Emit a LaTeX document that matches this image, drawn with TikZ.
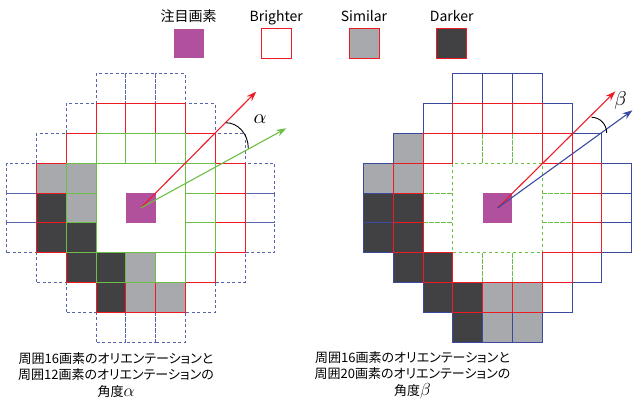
\documentclass[tikz,border=0pt]{standalone}
\usepackage{fontspec}
\setmainfont{Noto Sans CJK JP}[RawFeature=+palt]
\usetikzlibrary{arrows.meta}
\definecolor{cmag}{HTML}{B1519E}
\definecolor{cgray}{HTML}{A7A9AC}
\definecolor{cdark}{HTML}{414042}
\definecolor{cred}{HTML}{ED1C24}
\definecolor{cgreen}{HTML}{6DBE45}
\definecolor{cblue}{HTML}{3A4A9F}
\def\s{29.8}
\def\ringA{-1/2,0/2,1/2,-2/1,2/1,-2/0,2/0,-2/-1,2/-1,-1/-2,0/-2,1/-2}
\def\ringB{-1/3,0/3,1/3,2/2,3/1,3/0,3/-1,2/-2,1/-3,0/-3,-1/-3,-2/-2,-3/-1,-3/0,-3/1,-2/2}
\def\ringC{-1/4,0/4,1/4,2/3,3/2,4/1,4/0,4/-1,3/-2,2/-3,1/-4,0/-4,-1/-4,-2/-3,-3/-2,-4/-1,-4/0,-4/1,-3/2,-2/3}
\newcommand\biggreek[2]{\scalebox{#1}{$#2$}}
\begin{document}
\begin{tikzpicture}[x=1pt,y=1pt,
  redcell/.style={draw=cred,line width=0.9pt},
  greencell/.style={draw=cgreen,line width=0.9pt},
  bluecell/.style={draw=cblue,line width=0.9pt},
  dashgreen/.style={draw=cgreen,line width=0.9pt,dash pattern=on 3pt off 3pt},
  dashblue/.style={draw=cblue!85,line width=0.9pt,dash pattern=on 3pt off 2.5pt},
  arr/.style={line width=1.1pt,-{Stealth[length=10pt,width=7pt]}},
  lab/.style={font=\fontsize{14}{16}\selectfont,anchor=base},
  captext/.style={font=\fontsize{13}{16.5}\selectfont,align=center}]
\useasboundingbox (0,0) rectangle (633,405);
% legend
\node[lab] (l1) at (188.7,383) {注目画素};
\node[lab] (l2) at (276.3,383) {Brighter};
\node[lab] (l3) at (364,383) {Similar};
\node[lab] (l4) at (451.7,383) {Darker};
\fill[cmag] (173.5,346.7) rectangle ++(30,29.5);
\draw[redcell,fill=white] (261.3,346.7) rectangle ++(30,29.5);
\draw[redcell,fill=cgray] (349,346.7) rectangle ++(30,29.5);
\draw[redcell,fill=cdark] (436.7,346.7) rectangle ++(30,29.5);
% left diagram
\begin{scope}[shift={(140.7,197)}]
  \foreach \i/\j in {-3/1,-2/1,-2/0,0/-2,0/-3,1/-3}
    \fill[cgray] (\i*\s-\s/2,\j*\s-\s/2) rectangle ++(\s,\s);
  \foreach \i/\j in {-3/0,-3/-1,-2/-1,-2/-2,-1/-2,-1/-3}
    \fill[cdark] (\i*\s-\s/2,\j*\s-\s/2) rectangle ++(\s,\s);
  \fill[cmag] (-\s/2,-\s/2) rectangle ++(\s,\s);
  \foreach \i/\j in \ringC
    \draw[dashblue] (\i*\s-\s/2,\j*\s-\s/2) rectangle ++(\s,\s);
  \foreach \i/\j in \ringB
    \draw[redcell] (\i*\s-\s/2,\j*\s-\s/2) rectangle ++(\s,\s);
  \foreach \i/\j in \ringA
    \draw[greencell] (\i*\s-\s/2,\j*\s-\s/2) rectangle ++(\s,\s);
  \coordinate (lo) at (0,0);
  \coordinate (lr) at (45.2:164);
  \coordinate (lg) at (28.7:166);
  \draw[arr,cred] (lo) -- (lr);
  \draw[arr,cgreen] (lo) -- (lg);
  \draw[line width=0.9pt] (85,85.3) arc[start angle=90,end angle=0,x radius=22.6,y radius=25.6];
  \node (alpha) at (119.3,88.7) {\biggreek{2}{\alpha}};
\end{scope}
% right diagram
\begin{scope}[shift={(497.5,197)}]
  \foreach \i/\j in {-3/2,-4/1,-3/1,0/-3,1/-3,0/-4,1/-4}
    \fill[cgray] (\i*\s-\s/2,\j*\s-\s/2) rectangle ++(\s,\s);
  \foreach \i/\j in {-4/0,-3/0,-4/-1,-3/-1,-3/-2,-2/-2,-2/-3,-1/-3,-1/-4}
    \fill[cdark] (\i*\s-\s/2,\j*\s-\s/2) rectangle ++(\s,\s);
  \fill[cmag] (-\s/2,-\s/2) rectangle ++(\s,\s);
  \foreach \i/\j in \ringA
    \draw[dashgreen] (\i*\s-\s/2,\j*\s-\s/2) rectangle ++(\s,\s);
  \foreach \i/\j in \ringC
    \draw[bluecell] (\i*\s-\s/2,\j*\s-\s/2) rectangle ++(\s,\s);
  \foreach \i/\j in \ringB
    \draw[redcell] (\i*\s-\s/2,\j*\s-\s/2) rectangle ++(\s,\s);
  \coordinate (ro) at (0,0);
  \coordinate (rr) at (44.7:165.7);
  \coordinate (rb) at (35.9:166.6);
  \draw[arr,cred] (ro) -- (rr);
  \draw[arr,cblue] (ro) -- (rb);
  \draw[line width=0.9pt] (94.2,90.7) arc[start angle=90,end angle=0,x radius=15,y radius=15.7];
  \node (beta) at (123,107) {\biggreek{2}{\beta}};
\end{scope}
% captions
\node[captext] (c1) at (116,30) {周囲16画素のオリエンテーションと\\周囲12画素のオリエンテーションの\\角度\biggreek{1.45}{\alpha}};
\node[captext] (c2) at (412.5,30) {周囲16画素のオリエンテーションと\\周囲20画素のオリエンテーションの\\角度\biggreek{1.45}{\beta}};
\end{tikzpicture}
\end{document}
